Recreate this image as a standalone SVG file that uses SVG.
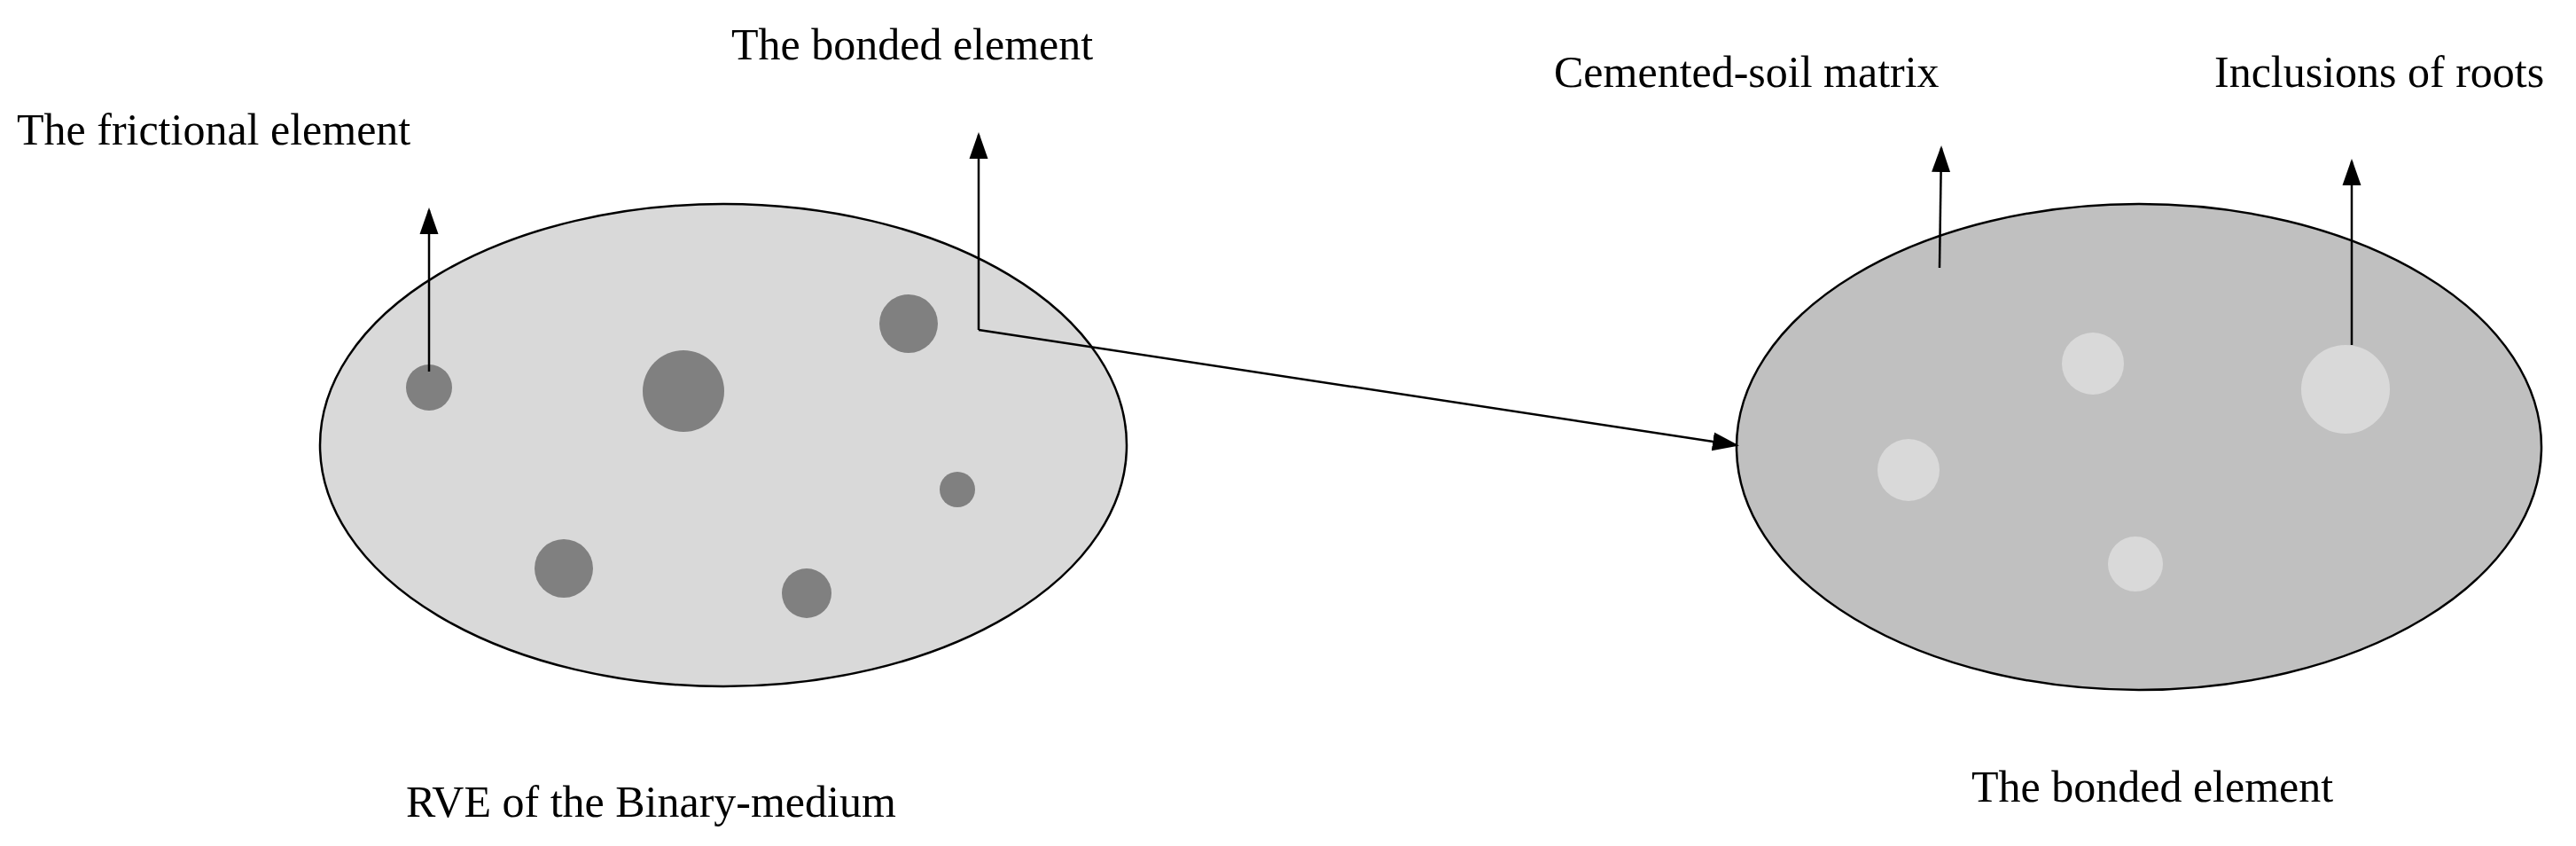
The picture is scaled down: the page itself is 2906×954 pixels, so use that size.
<svg xmlns="http://www.w3.org/2000/svg" width="2906" height="954" viewBox="0 0 2906 954">
<defs>
<style>
text{font-family:"Liberation Serif","Times New Roman",serif;font-size:50px;fill:#000}
.e{stroke:#000;stroke-width:2.5}
.d{fill:#808080}
.l{fill:#d9d9d9}
.c{stroke:#000;stroke-width:2.5;fill:none;marker-end:url(#ah2)}
</style>
<marker id="ah2" viewBox="0 0 10 10" refX="9" refY="5" markerWidth="30" markerHeight="30" markerUnits="userSpaceOnUse" orient="auto"><path d="M0,1.5L10,5L0,8.5z" fill="#000"/></marker>
</defs>
<g id="rve">
<ellipse class="e" cx="816" cy="502" rx="455" ry="272" fill="#d9d9d9"/>
<circle class="d" cx="484" cy="437" r="26"/>
<circle class="d" cx="771" cy="441" r="46"/>
<circle class="d" cx="1025" cy="365" r="33"/>
<circle class="d" cx="1080" cy="552" r="20"/>
<circle class="d" cx="636" cy="641" r="33"/>
<circle class="d" cx="910" cy="669" r="28"/>
<text x="458" y="921">RVE of the Binary-medium</text>
</g>
<g id="bonded">
<ellipse class="e" cx="2413" cy="504" rx="454" ry="274" fill="#c0c0c0"/>
<circle class="l" cx="2361" cy="410" r="35"/>
<circle class="l" cx="2646" cy="439" r="50"/>
<circle class="l" cx="2153" cy="530" r="35"/>
<circle class="l" cx="2409" cy="636" r="31"/>
<text x="2224" y="904">The bonded element</text>
</g>
<g id="labels">
<text x="19" y="163">The frictional element</text>
<text x="825" y="67">The bonded element</text>
<text x="1753" y="98">Cemented-soil matrix</text>
<text x="2498" y="98">Inclusions of roots</text>
</g>
<g id="connectors">
<path class="c" d="M484,419V237"/>
<path class="c" d="M1104,372V152"/>
<path class="c" d="M1104,372L1959,502"/>
<path class="c" d="M2188,302L2190,167"/>
<path class="c" d="M2653,389V182"/>
</g>
</svg>
